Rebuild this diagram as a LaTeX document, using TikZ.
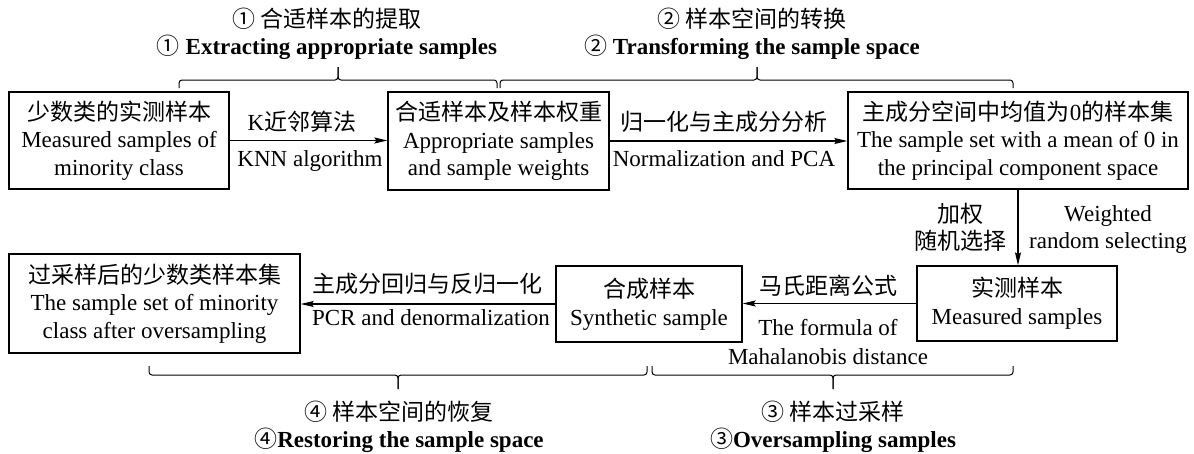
\documentclass[tikz,border=0pt]{standalone}
\usepackage{fontspec}
\setmainfont{Liberation Serif}
\newfontfamily\cjk{Noto Sans CJK SC}
\usetikzlibrary{arrows.meta}
\begin{document}
\begin{tikzpicture}[x=1pt,y=-1pt,
  font=\fontsize{23}{27.6}\selectfont,
  box/.style={draw,line width=1.3pt,inner sep=0pt,align=center},
  lbl/.style={anchor=base,inner sep=0pt},
  conn/.style={line width=1.2pt,-{Stealth[length=13pt,width=6pt,inset=2pt]}},
  brc/.style={line width=1pt,rounded corners=3pt}]
\useasboundingbox (0,0) rectangle (1194,453);

% boxes
\node[box,minimum width=220pt,minimum height=97pt] (b1) at (119,140.5)
  {{\cjk 少数类的实测样本}\\Measured samples of\\minority class};
\node[box,minimum width=221pt,minimum height=98pt] (b2) at (498.5,141)
  {{\cjk 合适样本及样本权重}\\Appropriate samples\\and sample weights};
\node[box,minimum width=340pt,minimum height=97pt] (b3) at (1018,140.5)
  {{\cjk 主成分空间中均值为}0{\cjk 的样本集}\\The sample set with a mean of 0 in\\the principal component space};
\node[box,minimum width=291pt,minimum height=99pt] (b4) at (154.5,303.5)
  {{\cjk 过采样后的少数类样本集}\\The sample set of minority\\class after oversampling};
\node[box,minimum width=186pt,minimum height=76pt] (b5) at (649,304)
  {{\cjk 合成样本}\\Synthetic sample};
\node[box,minimum width=200pt,minimum height=75pt] (b6) at (1017,303.5)
  {{\cjk 实测样本}\\Measured samples};

% connectors
\draw[conn] (b1.east) -- (b1.east -| b2.west);
\draw[conn] (b2.east) -- (b2.east -| b3.west);
\draw[conn] (b3.south) -- (b3.south |- b6.north);
\draw[conn] (b6.west) -- (b6.west -| b5.east);
\draw[conn] (b5.west) -- (b5.west -| b4.east);

% connector labels
\node[lbl] (l1a) at (302,130) {K{\cjk 近邻算法}};
\node[lbl] (l1b) at (310,166) {KNN algorithm};
\node[lbl] (l2a) at (724,130) {\cjk 归一化与主成分分析};
\node[lbl] (l2b) at (724,166) {Normalization and PCA};
\node[lbl] (l3a) at (960,222) {\cjk 加权};
\node[lbl] (l3b) at (960,249) {\cjk 随机选择};
\node[lbl] (l3c) at (1108,221) {Weighted};
\node[lbl] (l3d) at (1108,248) {random selecting};
\node[lbl] (l4a) at (828,294) {\cjk 马氏距离公式};
\node[lbl] (l4b) at (828,335) {The formula of};
\node[lbl] (l4c) at (828,364) {Mahalanobis distance};
\node[lbl] (l5a) at (427,292) {\cjk 主成分回归与反归一化};
\node[lbl] (l5b) at (431,325) {PCR and denormalization};

% braces
\draw[brc] (179,88) |- (338,80) -- (338,67);
\draw[brc] (497,88) |- (338,80) -- (338,67);
\draw[brc] (500,88) |- (757,80) -- (757,67);
\draw[brc] (1013,88) |- (757,80) -- (757,67);
\draw[brc] (149,366) |- (398,375) -- (398,389);
\draw[brc] (647,366) |- (398,375) -- (398,389);
\draw[brc] (652,366) |- (833,375) -- (833,389);
\draw[brc] (1013,366) |- (833,375) -- (833,389);

% brace labels
\node[lbl] (t1a) at (327,27) {\cjk ① 合适样本的提取};
\node[lbl] (t1b) at (327,54) {{\cjk ①} \bfseries Extracting appropriate samples};
\node[lbl] (t2a) at (752,27) {\cjk ② 样本空间的转换};
\node[lbl] (t2b) at (752,54) {{\cjk ②} \bfseries Transforming the sample space};
\node[lbl] (t4a) at (399,420) {\cjk ④ 样本空间的恢复};
\node[lbl] (t4b) at (399,447) {{\cjk ④}\bfseries Restoring the sample space};
\node[lbl] (t3a) at (833,420) {\cjk ③ 样本过采样};
\node[lbl] (t3b) at (833,447) {{\cjk ③}\bfseries Oversampling samples};
\end{tikzpicture}
\end{document}
